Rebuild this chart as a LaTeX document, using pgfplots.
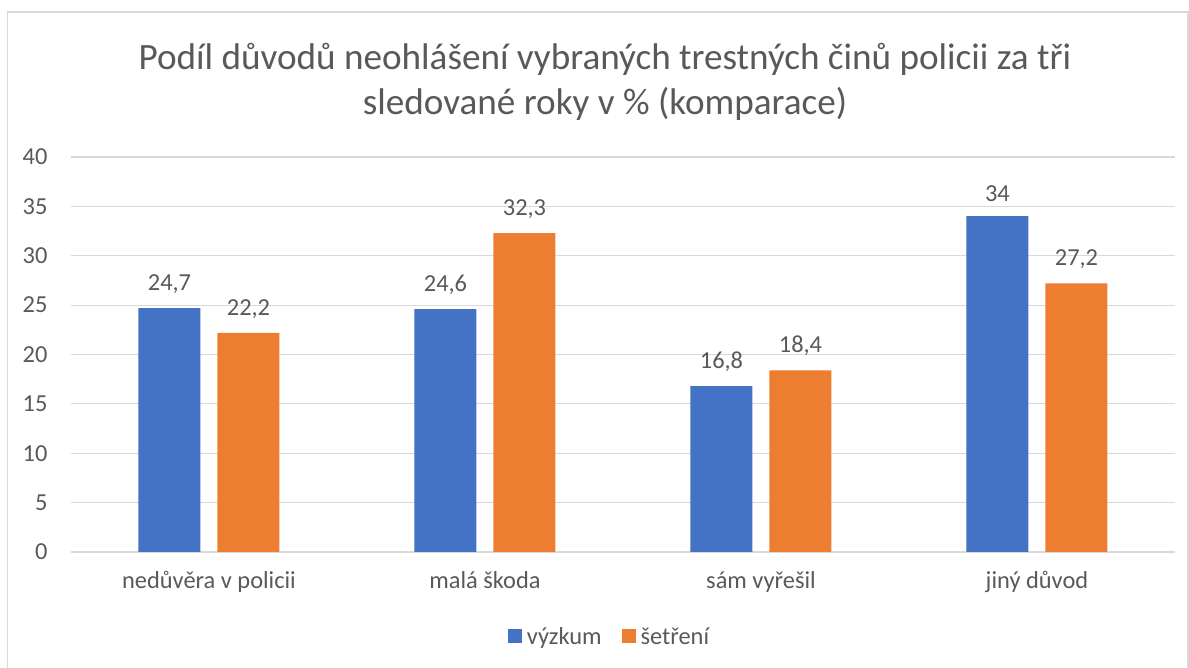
\documentclass[border=0pt]{standalone}
\usepackage{fontspec}
\setmainfont{Carlito}
\usepackage{pgfplots}
\pgfplotsset{compat=1.18}
\definecolor{xblue}{HTML}{4472C4}
\definecolor{xorange}{HTML}{ED7D31}
\definecolor{xgrid}{HTML}{D9D9D9}
\definecolor{xtext}{HTML}{595959}
\begin{document}
\begin{tikzpicture}[x=1bp,y=1bp]
\path[use as bounding box] (0,0) rectangle (1189,668);
\draw[xgrid, line width=1.2bp] (7.5,-10) rectangle (1188,656);
\node[xtext, font=\fontsize{37.3}{44}\selectfont, align=center] at (605,586)
  {Podíl důvodů neohlášení vybraných trestných činů policii za tři\\[1bp] sledované roky v \% (komparace)};
\begin{axis}[
  at={(71bp,116bp)}, anchor=south west,
  scale only axis, width=1104bp, height=395bp,
  xmin=-0.5, xmax=3.5, ymin=0, ymax=40,
  ytick={0,5,...,40},
  xtick={0,1,2,3},
  xticklabels={nedůvěra v policii, malá škoda, sám vyřešil, jiný důvod},
  major tick length=0pt,
  axis x line*=bottom, axis y line*=left,
  y axis line style={draw=none},
  x axis line style={draw=xgrid, line width=1.2bp},
  ymajorgrids, grid style={draw=xgrid, line width=1.2bp},
  tick label style={font=\fontsize{24.5}{29}\selectfont, text=xtext},
  yticklabel style={xshift=-20bp},
  xticklabel style={yshift=-16bp},
  ybar, bar width=62bp,
  nodes near coords,
  every node near coord/.append style={font=\fontsize{24.5}{29}\selectfont, text=xtext, yshift=11bp},
  /pgf/number format/.cd, use comma, fixed, precision=1, assume math mode=true,
  /pgfplots/.cd,
  legend style={at={(538.5bp,-84.5bp)}, anchor=center, draw=none, fill=none,
    font=\fontsize{24.5}{29}\selectfont, text=xtext,
    legend columns=2,
    /tikz/every odd column/.append style={column sep=3bp},
    /tikz/every even column/.append style={column sep=18bp}},
  legend image code/.code={\fill[#1] (0bp,-7bp) rectangle (14bp,7bp);},
]
\addplot[fill=xblue, draw=none, bar shift=-39.5bp] coordinates {(0,24.7) (1,24.6) (2,16.8) (3,34)};
\addplot[fill=xorange, draw=none, bar shift=39.5bp] coordinates {(0,22.2) (1,32.3) (2,18.4) (3,27.2)};
\legend{výzkum, šetření}
\end{axis}
\end{tikzpicture}
\end{document}
